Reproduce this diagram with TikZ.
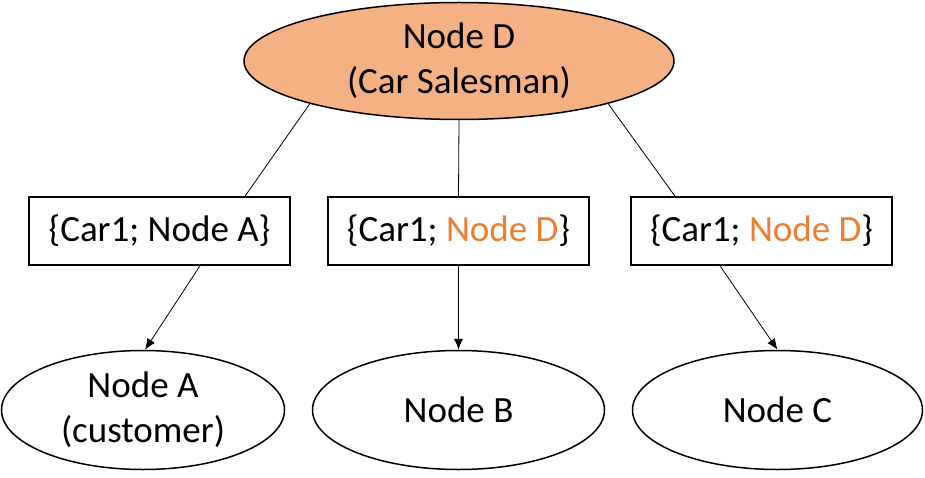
\documentclass[tikz,border=0pt]{standalone}
\usepackage{fontspec}
\setmainfont{Carlito}
\usetikzlibrary{shapes.geometric,arrows.meta}
\definecolor{salmon}{HTML}{F4B183}
\definecolor{orangetxt}{HTML}{ED7D31}
\tikzset{
  ell/.style={draw=black, line width=1.5pt, ellipse, inner sep=0pt, align=center,
    font=\fontsize{37}{45}\selectfont},
  labbox/.style={draw=black, line width=1.6pt, rectangle, inner sep=0pt,
    minimum width=261pt, minimum height=68pt, font=\fontsize{37}{45}\selectfont},
  conn/.style={line width=0.8pt, draw=black},
  arr/.style={conn, -{Latex[length=11pt,width=9pt]}}
}
\begin{document}
\begin{tikzpicture}[x=1pt,y=1pt]
\useasboundingbox (0,0) rectangle (925,-478);
\node[ell, fill=salmon, minimum width=430pt, minimum height=117pt] (D) at (459,-61)
  {Node D\\(Car Salesman)};
\node[labbox] (b1) at (159.5,-231) {\{Car1; Node A\}};
\node[labbox] (b2) at (458.5,-231) {\{Car1; \textcolor{orangetxt}{Node D}\}};
\node[labbox] (b3) at (761.5,-231) {\{Car1; \textcolor{orangetxt}{Node D}\}};
\node[ell, minimum width=283pt, minimum height=119pt] (A) at (143,-410)
  {Node A\\(customer)};
\node[ell, minimum width=292pt, minimum height=119pt] (B) at (458.5,-410) {Node B};
\node[ell, minimum width=290pt, minimum height=119pt] (C) at (777.5,-410) {Node C};
\draw[conn] (D.196) -- ([xshift=85.5pt]b1.north);
\draw[conn] (D.south) -- (b2.north);
\draw[conn] (D.-16) -- ([xshift=-86.5pt]b3.north);
\draw[arr] ([xshift=40.5pt]b1.south) -- ([xshift=2pt]A.north);
\draw[arr] (b2.south) -- (B.north);
\draw[arr] ([xshift=-41.5pt]b3.south) -- (C.north);
\end{tikzpicture}
\end{document}
